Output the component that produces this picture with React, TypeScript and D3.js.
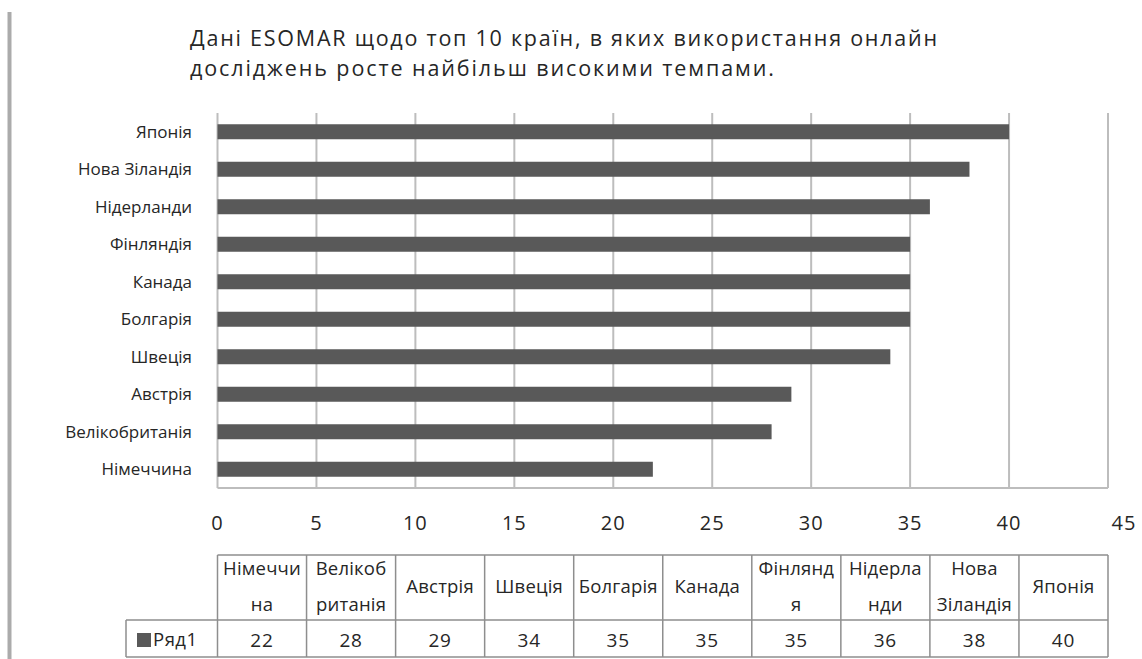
import React from 'react';
import * as d3 from 'd3';

// ESOMAR data, bottom-to-top order as in the chart
const countries = ['Німеччина', 'Велікобританія', 'Австрія', 'Швеція', 'Болгарія', 'Канада', 'Фінляндія', 'Нідерланди', 'Нова Зіландія', 'Японія'];
const values = [22, 28, 29, 34, 35, 35, 35, 36, 38, 40];
// wrapped header labels of the data table
const tableLabels = [['Німеччи', 'на'], ['Велікоб', 'ританія'], ['Австрія'], ['Швеція'], ['Болгарія'], ['Канада'], ['Фінлянд', 'я'], ['Нідерла', 'нди'], ['Нова', 'Зіландія'], ['Японія']];
const xTicks = [0, 5, 10, 15, 20, 25, 30, 35, 40, 45];
const seriesName = 'Ряд1';
const titleLines = ['Дані ESOMAR щодо топ 10 країн, в яких використання онлайн', 'досліджень росте найбільш високими темпами.'];

const W = 1142;
const H = 659;
const plot = { left: 217.5, right: 1108, top: 113, bottom: 488 };
const FONT = "'Open Sans', sans-serif";
const GRID = '#bdbdbd';
const BAR = '#595959';
const TABLE = '#8e8e8e';
const TEXT = '#262626';

export default function App() {
  const x = d3.scaleLinear().domain([0, 45]).range([plot.left, plot.right]);
  const y = d3.scaleBand<string>()
    .domain([...countries].reverse())
    .range([plot.top, plot.bottom])
    .paddingInner(0.6)
    .paddingOuter(0.3);

  const tableTop = 555;
  const tableMid = 620;
  const tableBottom = 657;
  const cols = d3.scaleBand<string>().domain(countries).range([plot.left, plot.right]);
  const headLeft = 126;

  return (
    <svg width={W} height={H} style={{ position: 'absolute', left: 0, top: 0, background: '#fff' }}>
      <rect x={0} y={0} width={W} height={H} fill="#fff" />
      {/* left frame edge */}
      <line x1={9.5} x2={9.5} y1={12} y2={H} stroke="#ababab" strokeWidth={4} />

      <text x={190} y={46} fontFamily={FONT} fontSize={21.5} fill={TEXT} textLength={747} lengthAdjust="spacing">{titleLines[0]}</text>
      <text x={190} y={76} fontFamily={FONT} fontSize={21.5} fill={TEXT} textLength={584} lengthAdjust="spacing">{titleLines[1]}</text>

      {/* vertical gridlines */}
      {xTicks.map(t => (
        <line key={t} x1={x(t)} x2={x(t)} y1={plot.top} y2={plot.bottom} stroke={GRID} strokeWidth={2} />
      ))}
      <line x1={plot.left} x2={plot.right} y1={plot.bottom} y2={plot.bottom} stroke={GRID} strokeWidth={2} />

      {/* bars */}
      {countries.map((c, i) => (
        <rect key={c} x={x(0)} y={y(c)} width={x(values[i]) - x(0)} height={y.bandwidth()} fill={BAR} />
      ))}

      {/* category labels */}
      {countries.map(c => (
        <text key={c} x={192} y={(y(c) ?? 0) + y.bandwidth() / 2} dy="0.35em" textAnchor="end" fontFamily={FONT} fontSize={17} fill={TEXT}>{c}</text>
      ))}

      {/* x tick labels */}
      {xTicks.map((t, i) => (
        <text key={t} x={x(t)} dx={i === xTicks.length - 1 ? 16 : 0} y={530} textAnchor="middle" fontFamily={FONT} fontSize={20} letterSpacing={1} fill={TEXT}>{t}</text>
      ))}

      {/* data table */}
      <g stroke={TABLE} strokeWidth={1.5} fill="none">
        <line x1={plot.left} x2={plot.right} y1={tableTop} y2={tableTop} />
        <line x1={headLeft} x2={plot.right} y1={tableMid} y2={tableMid} />
        <line x1={headLeft} x2={plot.right} y1={tableBottom} y2={tableBottom} />
        <line x1={headLeft} x2={headLeft} y1={tableMid} y2={tableBottom} />
        {countries.map(c => (
          <line key={c} x1={cols(c)} x2={cols(c)} y1={tableTop} y2={tableBottom} />
        ))}
        <line x1={plot.right} x2={plot.right} y1={tableTop} y2={tableBottom} />
      </g>
      {countries.map((c, i) => {
        const cx = (cols(c) ?? 0) + cols.bandwidth() / 2;
        const lines = tableLabels[i];
        return (
          <g key={c}>
            {lines.map((l, j) => (
              <text key={j} x={cx} y={lines.length === 1 ? 587 : 569 + j * 36} dy="0.35em" textAnchor="middle" fontFamily={FONT} fontSize={18.5} letterSpacing={0.2} fill={TEXT}>{l}</text>
            ))}
            <text x={cx} y={640} dy="0.35em" textAnchor="middle" fontFamily={FONT} fontSize={19} letterSpacing={0.8} fill={TEXT}>{values[i]}</text>
          </g>
        );
      })}
      <rect x={137} y={633} width={14} height={14} fill={BAR} />
      <text x={153} y={640} dy="0.35em" fontFamily={FONT} fontSize={18.5} letterSpacing={0.5} fill={TEXT}>{seriesName}</text>
    </svg>
  );
}
